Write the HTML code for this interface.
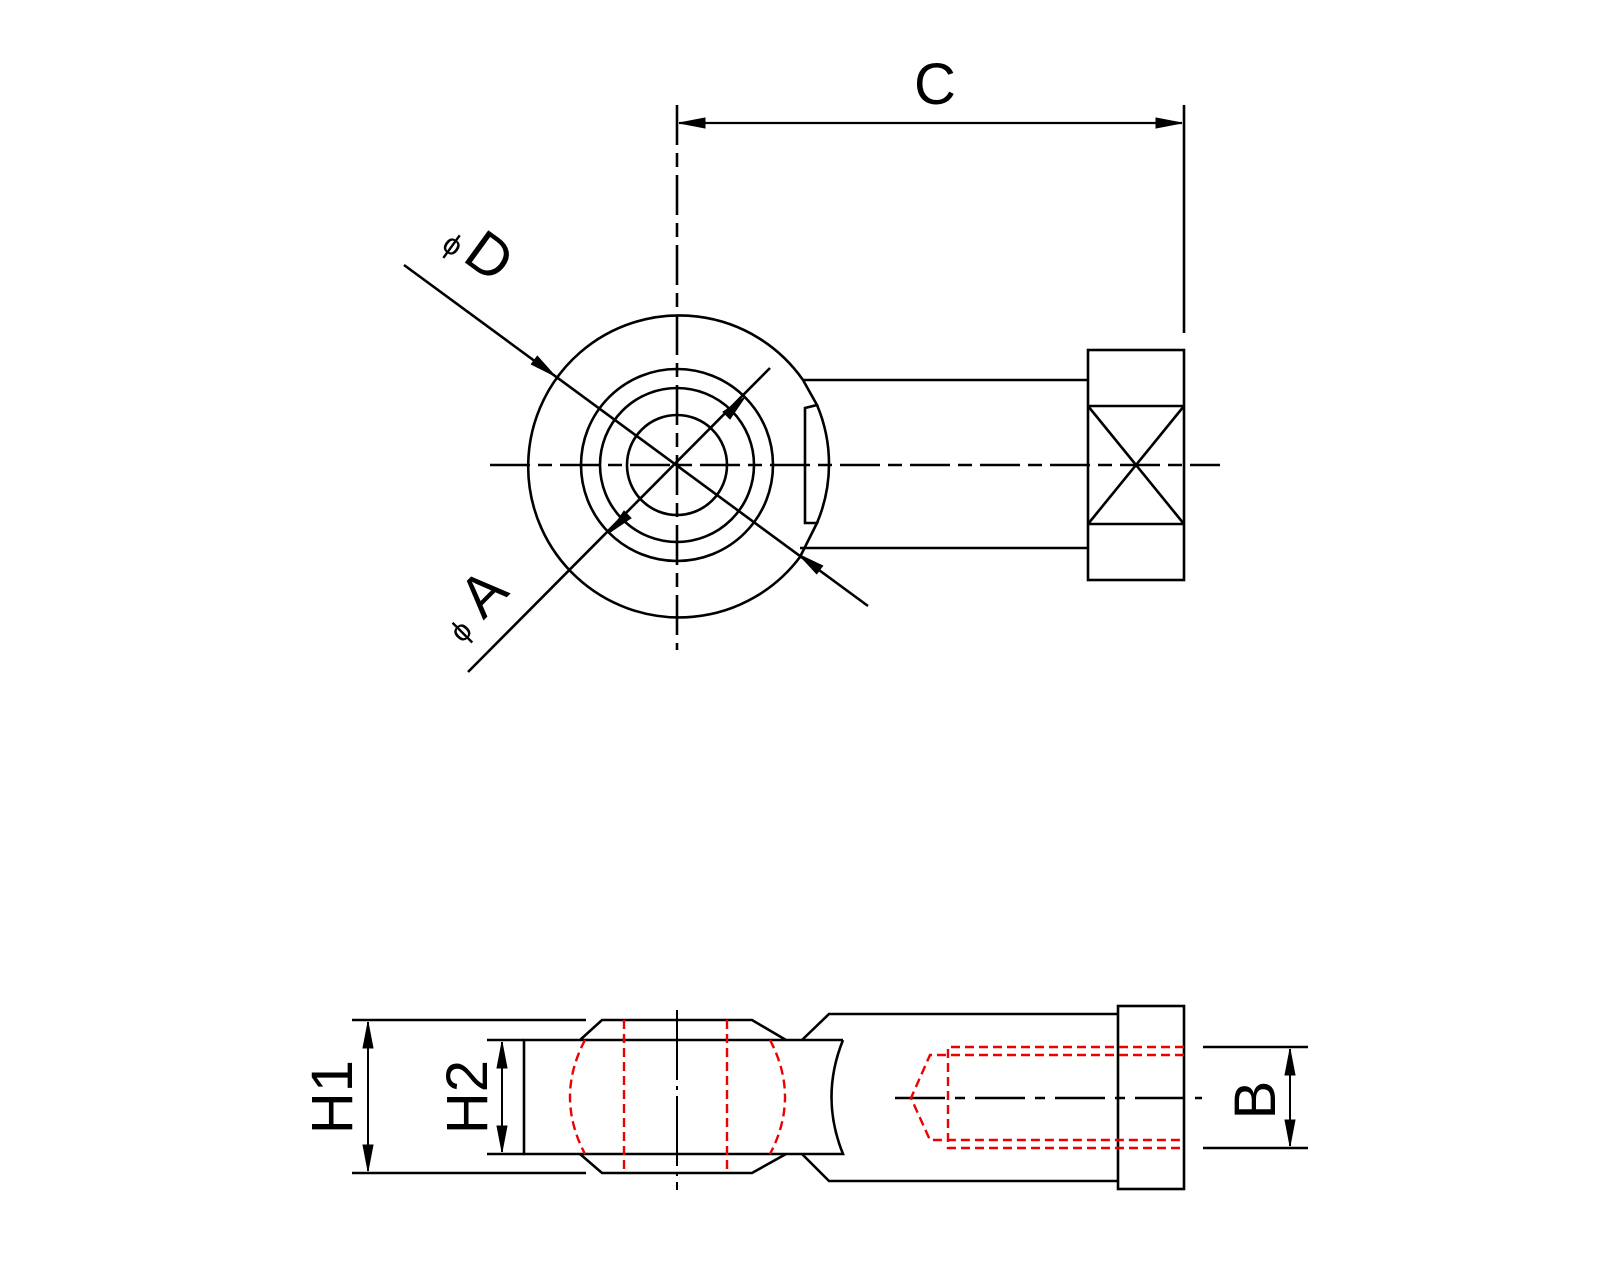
<!DOCTYPE html>
<html><head><style>body{margin:0;background:#fff}svg{display:block}</style></head>
<body>
<svg width="1600" height="1280" viewBox="0 0 1600 1280" xmlns="http://www.w3.org/2000/svg">
<g fill="none" stroke="#000" stroke-width="2.6">
<!-- top view -->
<line x1="677" y1="105" x2="677" y2="650" stroke-dasharray="40,8,14,8"/>
<line x1="490" y1="465" x2="1220" y2="465" stroke-dasharray="40,8,14,8"/>
<line x1="1184" y1="105" x2="1184" y2="333"/>
<line x1="679" y1="123" x2="1182" y2="123" stroke-width="2.2"/>
<path d="M803,380 A151,151 0 1 0 800,557"/>
<path d="M817,405 A151,151 0 0 1 817,523"/>
<path d="M803,380 L817,405 L805,408 L805,523 L817,523 L800,557"/>
<circle cx="677" cy="465" r="96"/>
<circle cx="677" cy="465" r="77"/>
<circle cx="677" cy="465" r="50"/>
<line x1="803" y1="380" x2="1088" y2="380"/>
<line x1="800" y1="548" x2="1088" y2="548"/>
<rect x="1088" y="350" width="96" height="230"/>
<line x1="1088" y1="406" x2="1184" y2="406"/>
<line x1="1088" y1="524" x2="1184" y2="524"/>
<line x1="1088" y1="406" x2="1184" y2="524"/>
<line x1="1184" y1="406" x2="1088" y2="524"/>
<line x1="404" y1="265" x2="868" y2="606"/>
<line x1="468" y1="672" x2="770" y2="368"/>
<!-- bottom view -->
<line x1="352" y1="1020" x2="586" y2="1020"/>
<line x1="352" y1="1173" x2="586" y2="1173"/>
<line x1="368" y1="1022" x2="368" y2="1171" stroke-width="2"/>
<line x1="487" y1="1040" x2="524" y2="1040"/>
<line x1="487" y1="1154" x2="524" y2="1154"/>
<line x1="502" y1="1042" x2="502" y2="1152" stroke-width="2"/>
<path d="M786,1040 L752,1020 L602,1020 L580,1040"/>
<path d="M786,1154 L752,1173 L602,1173 L580,1154"/>
<path d="M843,1040 L524,1040 L524,1154 L843,1154 Q820,1097 843,1040"/>
<path d="M802,1040 L829,1014 L1118,1014"/>
<path d="M802,1154 L829,1181 L1118,1181"/>
<rect x="1118" y="1006" width="66" height="183"/>
<line x1="677" y1="1010" x2="677" y2="1190" stroke-width="2" stroke-dasharray="70,6,4,6"/>
<line x1="895" y1="1098" x2="1202" y2="1098" stroke-dasharray="50,10,10,10"/>
<line x1="1203" y1="1047" x2="1308" y2="1047"/>
<line x1="1203" y1="1148" x2="1308" y2="1148"/>
<line x1="1290" y1="1049" x2="1290" y2="1146" stroke-width="2"/>
</g>
<g fill="#000" stroke="#000" stroke-width="1">
<polygon points="679,123 705,118 705,128"/>
<polygon points="1182,123 1156,118 1156,128"/>
<polygon points="555,376 537.3,356.2 531.3,364.2"/>
<polygon points="798.7,554.4 816.7,573.8 822.7,565.8"/>
<polygon points="745,397 730,419 723,412"/>
<polygon points="609,533 631,518 624,511"/>
<polygon points="368,1022 363,1048 373,1048"/>
<polygon points="368,1171 363,1145 373,1145"/>
<polygon points="502,1042 497,1068 507,1068"/>
<polygon points="502,1152 497,1126 507,1126"/>
<polygon points="1290,1049 1285,1075 1295,1075"/>
<polygon points="1290,1146 1285,1120 1295,1120"/>
</g>
<g fill="none" stroke="#e00" stroke-width="2.4" stroke-dasharray="9,5">
<path d="M585,1040 Q555,1097 585,1154"/>
<path d="M770,1040 Q800,1097 770,1154"/>
<line x1="624" y1="1020" x2="624" y2="1173"/>
<line x1="727" y1="1020" x2="727" y2="1173"/>
<path d="M1184,1047 L948,1047 L948,1148 L1184,1148"/>
<path d="M1184,1055 L930,1055 L911,1098 L930,1140 L1184,1140"/>
</g>
<g font-family="Liberation Sans, sans-serif" fill="#000">
<text x="935" y="104" font-size="58" text-anchor="middle">C</text>
<text transform="translate(478,272) rotate(36)" font-size="58" text-anchor="middle">D</text>
<text transform="translate(447,253) rotate(36)" font-size="30" text-anchor="middle">ϕ</text>
<text transform="translate(497,607) rotate(-45)" font-size="58" text-anchor="middle">A</text>
<text transform="translate(468,638) rotate(-45)" font-size="30" text-anchor="middle">ϕ</text>
<text transform="translate(352,1097) rotate(-90)" font-size="58" text-anchor="middle">H1</text>
<text transform="translate(487,1097) rotate(-90)" font-size="58" text-anchor="middle">H2</text>
<text transform="translate(1275,1100) rotate(-90)" font-size="58" text-anchor="middle">B</text>
</g>
</svg>
</body></html>
